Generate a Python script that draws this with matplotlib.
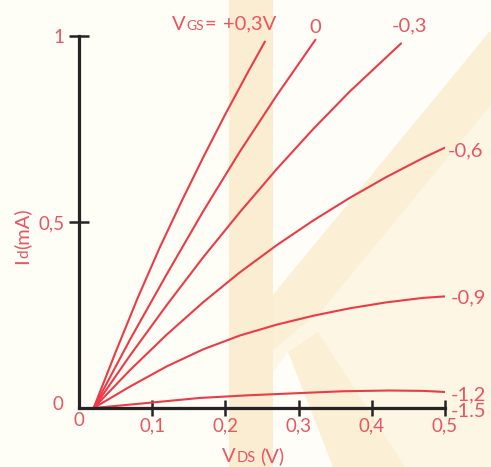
import matplotlib
matplotlib.use("Agg")
import matplotlib.pyplot as plt
from matplotlib.patches import Polygon

# ---- data: drain current Id (mA) vs drain-source voltage Vds (V) ----
vds_p03 = [0.02, 0.05, 0.08, 0.11, 0.14, 0.17, 0.20, 0.23, 0.254]
id_p03 = [0.0, 0.15, 0.295, 0.43, 0.555, 0.675, 0.79, 0.90, 0.985]

vds_0 = [0.02, 0.07, 0.12, 0.17, 0.22, 0.27, 0.323]
id_0 = [0.0, 0.185, 0.36, 0.53, 0.69, 0.84, 0.99]

vds_m03 = [0.02, 0.07, 0.12, 0.17, 0.22, 0.27, 0.32, 0.37, 0.44]
id_m03 = [0.0, 0.142, 0.277, 0.406, 0.527, 0.642, 0.750, 0.851, 0.98]

vds_m06 = [0.02, 0.07, 0.12, 0.17, 0.22, 0.27, 0.32, 0.37, 0.42, 0.47, 0.50]
id_m06 = [0.0, 0.1025, 0.1975, 0.285, 0.365, 0.4375, 0.504, 0.565, 0.621, 0.672, 0.70]

vds_m09 = [0.02, 0.07, 0.12, 0.17, 0.22, 0.27, 0.32, 0.37, 0.42, 0.47, 0.50]
id_m09 = [0.0, 0.058, 0.112, 0.158, 0.195, 0.224, 0.248, 0.268, 0.284, 0.296, 0.30]

vds_m12 = [0.02, 0.08, 0.165, 0.23, 0.30, 0.36, 0.424, 0.47, 0.50]
id_m12 = [0.0, 0.011, 0.027, 0.034, 0.040, 0.045, 0.047, 0.046, 0.043]

vds_m15 = [0.02, 0.50]
id_m15 = [0.0, 0.0]

gate_labels = ["+0,3V", "0", "-0,3", "-0,6", "-0,9", "-1,2", "-1.5"]

x_ticks = [0.1, 0.2, 0.3, 0.4, 0.5]
x_tick_labels = ["0,1", "0,2", "0,3", "0,4", "0,5"]
y_ticks = [0.5, 1.0]
y_tick_labels = ["0,5", "1"]

# ---- style ----
W, H = 491, 467
RED = "#ec3b47"
TXT = "#ea5560"
INK = "#262324"
FONT = "Lato"
plt.rcParams["font.family"] = [FONT, "DejaVu Sans"]

fig = plt.figure(figsize=(W / 100, H / 100), dpi=100)
fig.patch.set_facecolor("#fefdf6")


def px(points):
    """pixel coords (origin top-left) -> figure fraction"""
    return [(x / W, 1 - y / H) for x, y in points]


# faint "K" emblem behind the plot
shapes = [
    ([(229, 0), (W, 0), (W, H), (229, H)], "#fdf6e4"),
    ([(273, 0), (W, 0), (W, 30), (273, 295)], "#fefdf7"),
    ([(W, 30), (W, 105), (322, 310), (273, 350), (273, 295)], "#fbefd6"),
    ([(288, 352), (318, 332), (405, 467), (333, 467)], "#fbefd6"),
    ([(273, 372), (288, 352), (333, 467), (273, 467)], "#fefdf7"),
    ([(229, 0), (273, 0), (273, H), (229, H)], "#faedd2"),
]
for pts, c in shapes:
    fig.patches.append(Polygon(px(pts), closed=True, transform=fig.transFigure,
                               facecolor=c, edgecolor="none", zorder=0))

# axes frame so that Vds 0..0.5 spans x 79..445 px and Id 0..1 spans y 408..36 px
ax = fig.add_axes([79 / W, (H - 408) / H, (445 - 79) / W, (408 - 36) / H])
ax.set_zorder(2)
ax.set_facecolor("none")
ax.set_xlim(0, 0.5)
ax.set_ylim(0, 1)
for s in ("top", "right"):
    ax.spines[s].set_visible(False)
for s in ("left", "bottom"):
    ax.spines[s].set_linewidth(2.3)
    ax.spines[s].set_color(INK)
    ax.spines[s].set_capstyle("projecting")
    ax.spines[s].set_zorder(4)

ax.set_xticks(x_ticks, x_tick_labels)
ax.set_yticks(y_ticks, y_tick_labels)
ax.tick_params(axis="x", direction="inout", length=11.5, width=1.8, color=INK,
               pad=1, labelsize=13.5, labelcolor=TXT)
ax.tick_params(axis="y", direction="inout", length=14.5, width=1.8, color=INK,
               pad=3, labelsize=13.5, labelcolor=TXT)

series = [
    (vds_p03, id_p03), (vds_0, id_0), (vds_m03, id_m03), (vds_m06, id_m06),
    (vds_m09, id_m09), (vds_m12, id_m12), (vds_m15, id_m15),
]
for i, (xv, yv) in enumerate(series):
    ax.plot(xv, yv, color=RED, lw=1.5, solid_capstyle="round",
            solid_joinstyle="round", zorder=2 if i < 6 else 1)

fig.canvas.draw()
renderer = fig.canvas.get_renderer()


def chain(pieces, xy, start, coords="data", rotation=0):
    """lay text pieces one after another, starting at a pixel offset from xy"""
    dx, dy = start
    for s, size, gap in pieces:
        t = ax.annotate(s, xy=xy, xycoords=coords, xytext=(dx, dy),
                        textcoords="offset pixels", ha="left", va="baseline",
                        rotation=rotation, rotation_mode="anchor",
                        fontsize=size, color=TXT, annotation_clip=False)
        bb = t.get_window_extent(renderer)
        if rotation == 90:
            dy += bb.height + gap
        else:
            dx += bb.width + gap


def curve_label(text, xv, yv, off, ha):
    ax.annotate(text, xy=(xv[-1], yv[-1]), xytext=off,
                textcoords="offset pixels", ha=ha, va="baseline",
                fontsize=14.5, color=TXT, annotation_clip=False)


# curve names along the top
chain([("V", 14.5, 0.5), ("GS", 10, 1), ("=", 14.5, 7), (gate_labels[0], 14.5, 0)],
      (vds_p03[-1], id_p03[-1]), (-93, 12))
curve_label(gate_labels[1], vds_0, id_0, (0, 7), "center")
curve_label(gate_labels[2], vds_m03, id_m03, (8, 12), "center")

# curve names on the right
curve_label(gate_labels[3], vds_m06, id_m06, (3, -9), "left")
curve_label(gate_labels[4], vds_m09, id_m09, (6, -7), "left")
curve_label(gate_labels[5], vds_m12, id_m12, (6, -8), "left")
curve_label(gate_labels[6], vds_m15, id_m15, (6, -9), "left")

# zeros at the origin
ax.annotate("0", xy=(0, 0), xytext=(0, -13), textcoords="offset pixels",
            ha="center", va="center", fontsize=13.5, color=TXT, annotation_clip=False)
ax.annotate("0", xy=(0, 0), xytext=(-21, 3), textcoords="offset pixels",
            ha="center", va="center", fontsize=13.5, color=TXT, annotation_clip=False)

# axis titles
chain([("V", 14.5, 0.5), ("DS", 10.5, 5), ("(V)", 14.5, 0)], (0.5, 0), (-40, -54),
      coords="axes fraction")
chain([("I", 14.5, 0.5), ("d", 11, 0.5), ("(mA)", 14.5, 0)], (0, 0.5), (-51, -42),
      coords="axes fraction", rotation=90)

fig.savefig("out.png", dpi=100, facecolor=fig.get_facecolor())
